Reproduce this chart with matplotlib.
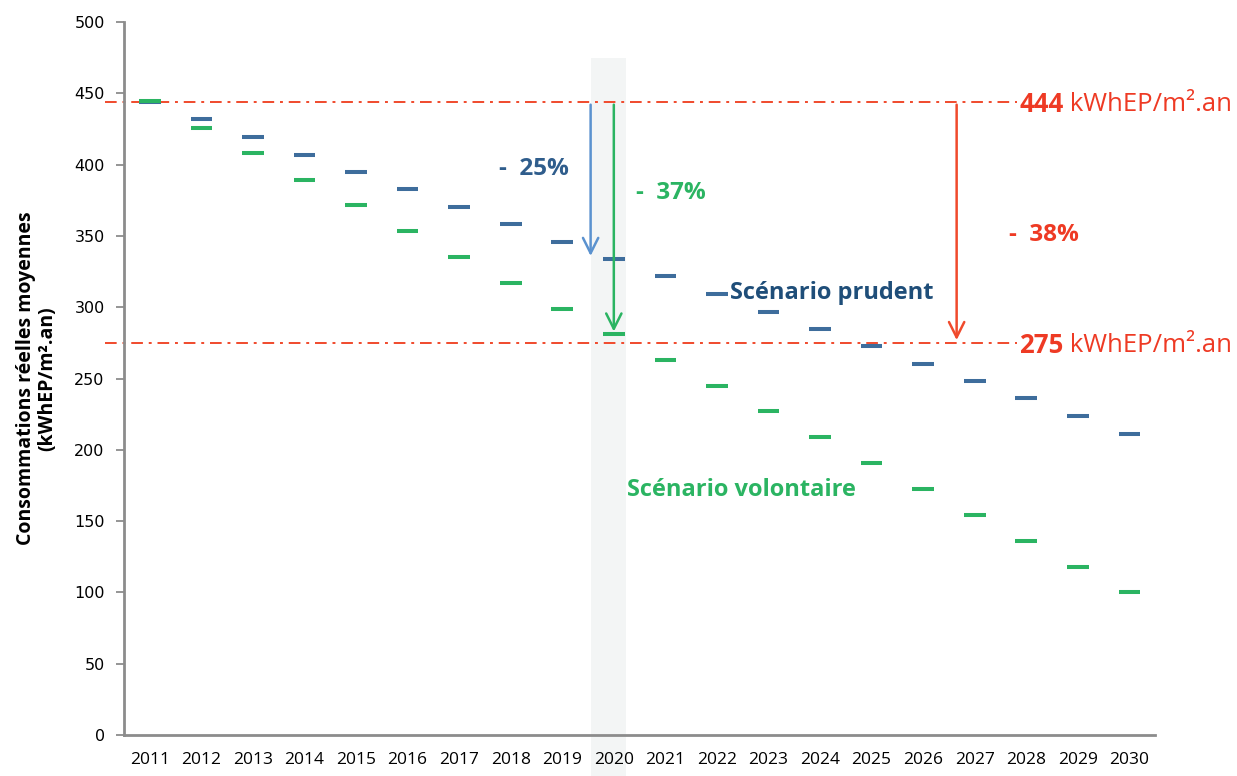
import matplotlib
matplotlib.use("Agg")
import matplotlib.pyplot as plt
from matplotlib.patches import Rectangle
import matplotlib.font_manager as fm

years = [str(y) for y in range(2011, 2031)]
prudent = [444, 432, 419.5, 407, 395, 383, 370.5, 358.5, 346, 334,
           322, 309.5, 297, 285, 273, 260.5, 248, 236, 224, 211]
volontaire = [444.5, 426, 408, 389.5, 371.5, 353.5, 335.5, 317, 299, 281,
              263, 245, 227, 209, 191, 172.5, 154.5, 136, 118, 100]
ref_high = 444
ref_low = 275
yticks = [0, 50, 100, 150, 200, 250, 300, 350, 400, 450, 500]

BLUE = "#3E6D9C"
BLUE_TXT = "#2F5D8C"
BLUE_DARK = "#1F4E79"
BLUE_ARROW = "#5B92CF"
GREEN = "#2BB462"
RED = "#F04A2C"
RED_TXT = "#EE3A24"

names = {f.name for f in fm.fontManager.ttflist}
main_font = "Open Sans" if "Open Sans" in names else "DejaVu Sans"
narrow = "Liberation Sans Narrow" if "Liberation Sans Narrow" in names else main_font

fig = plt.figure(figsize=(12.37, 7.76), dpi=100)
ax = fig.add_axes([0.1003, 0.0528, 0.8335, 0.9188])
x = list(range(len(years)))
ax.set_xlim(-0.5, 19.5)
ax.set_ylim(0, 500)

# gray band for 2020
i20 = years.index("2020")
ax.add_patch(Rectangle((i20 - 0.45, -29), 0.68, 504, facecolor="#F3F5F5",
                       edgecolor="none", zorder=0, clip_on=False))

hw = 0.21
ax.hlines(prudent, [i - hw for i in x], [i + hw for i in x], colors=BLUE,
          linewidth=2.9, zorder=3)
ax.hlines(volontaire, [i - hw for i in x], [i + hw for i in x], colors=GREEN,
          linewidth=2.9, zorder=3)

# reference lines
for v in (ref_high, ref_low):
    ax.plot([-0.87, 16.83], [v, v], color=RED, linewidth=1.4,
            linestyle=(0, (6, 3, 1.5, 3)), clip_on=False, zorder=2)

# arrows
def arrow(xp, y0, y1, color):
    ax.annotate("", xy=(xp, y1), xytext=(xp, y0),
                arrowprops=dict(arrowstyle="->,head_length=1.1,head_width=0.55",
                                color=color, linewidth=1.8), zorder=4)

arrow(i20 - 0.45, ref_high, prudent[i20], BLUE_ARROW)
arrow(i20, ref_high, volontaire[i20], GREEN)
arrow(15.65, ref_high, ref_low, RED)

ax.text(7.46, 397, "-  25%", color=BLUE_TXT, fontsize=17.5, fontweight="bold",
        ha="center", va="center", family=main_font)
ax.text(10.1, 380, "-  37%", color=GREEN, fontsize=17.5, fontweight="bold",
        ha="center", va="center", family=main_font)
ax.text(17.35, 351, "-  38%", color=RED_TXT, fontsize=17.5, fontweight="bold",
        ha="center", va="center", family=main_font)
ax.text(11.25, 310, "Scénario prudent", color=BLUE_DARK, fontsize=17,
        fontweight="bold", ha="left", va="center", family=main_font)
ax.text(9.25, 172, "Scénario volontaire", color=GREEN, fontsize=17,
        fontweight="bold", ha="left", va="center", family=main_font)

for v, lab in ((ref_high, "444"), (ref_low, "275")):
    t = ax.text(16.86, v - 1.5, lab, color=RED_TXT, fontsize=18.5, fontweight="bold",
                ha="left", va="center", family=main_font)
    ax.annotate(" kWhEP/m².an", xycoords=t, xy=(1, 0.5), va="center",
                ha="left", color=RED_TXT, fontsize=18.5, family=main_font)

ax.set_xticks(x)
ax.set_xticklabels(years, fontsize=12.5, family=main_font)
ax.tick_params(axis="x", length=0, pad=12)
ax.set_yticks(yticks)
ax.set_yticklabels([str(v) for v in yticks], fontsize=11.5, family="DejaVu Sans")
ax.tick_params(axis="y", length=6, width=1.3, color="#8C8C8C", pad=8)

for s in ("top", "right"):
    ax.spines[s].set_visible(False)
for s in ("left", "bottom"):
    ax.spines[s].set_color("#8C8C8C")
    ax.spines[s].set_linewidth(2)

ax.set_ylabel("Consommations réelles moyennes\n(kWhEP/m².an)", fontsize=14,
              fontweight="bold", family=narrow, labelpad=12, linespacing=1.1)

fig.savefig("out.png", dpi=100)
